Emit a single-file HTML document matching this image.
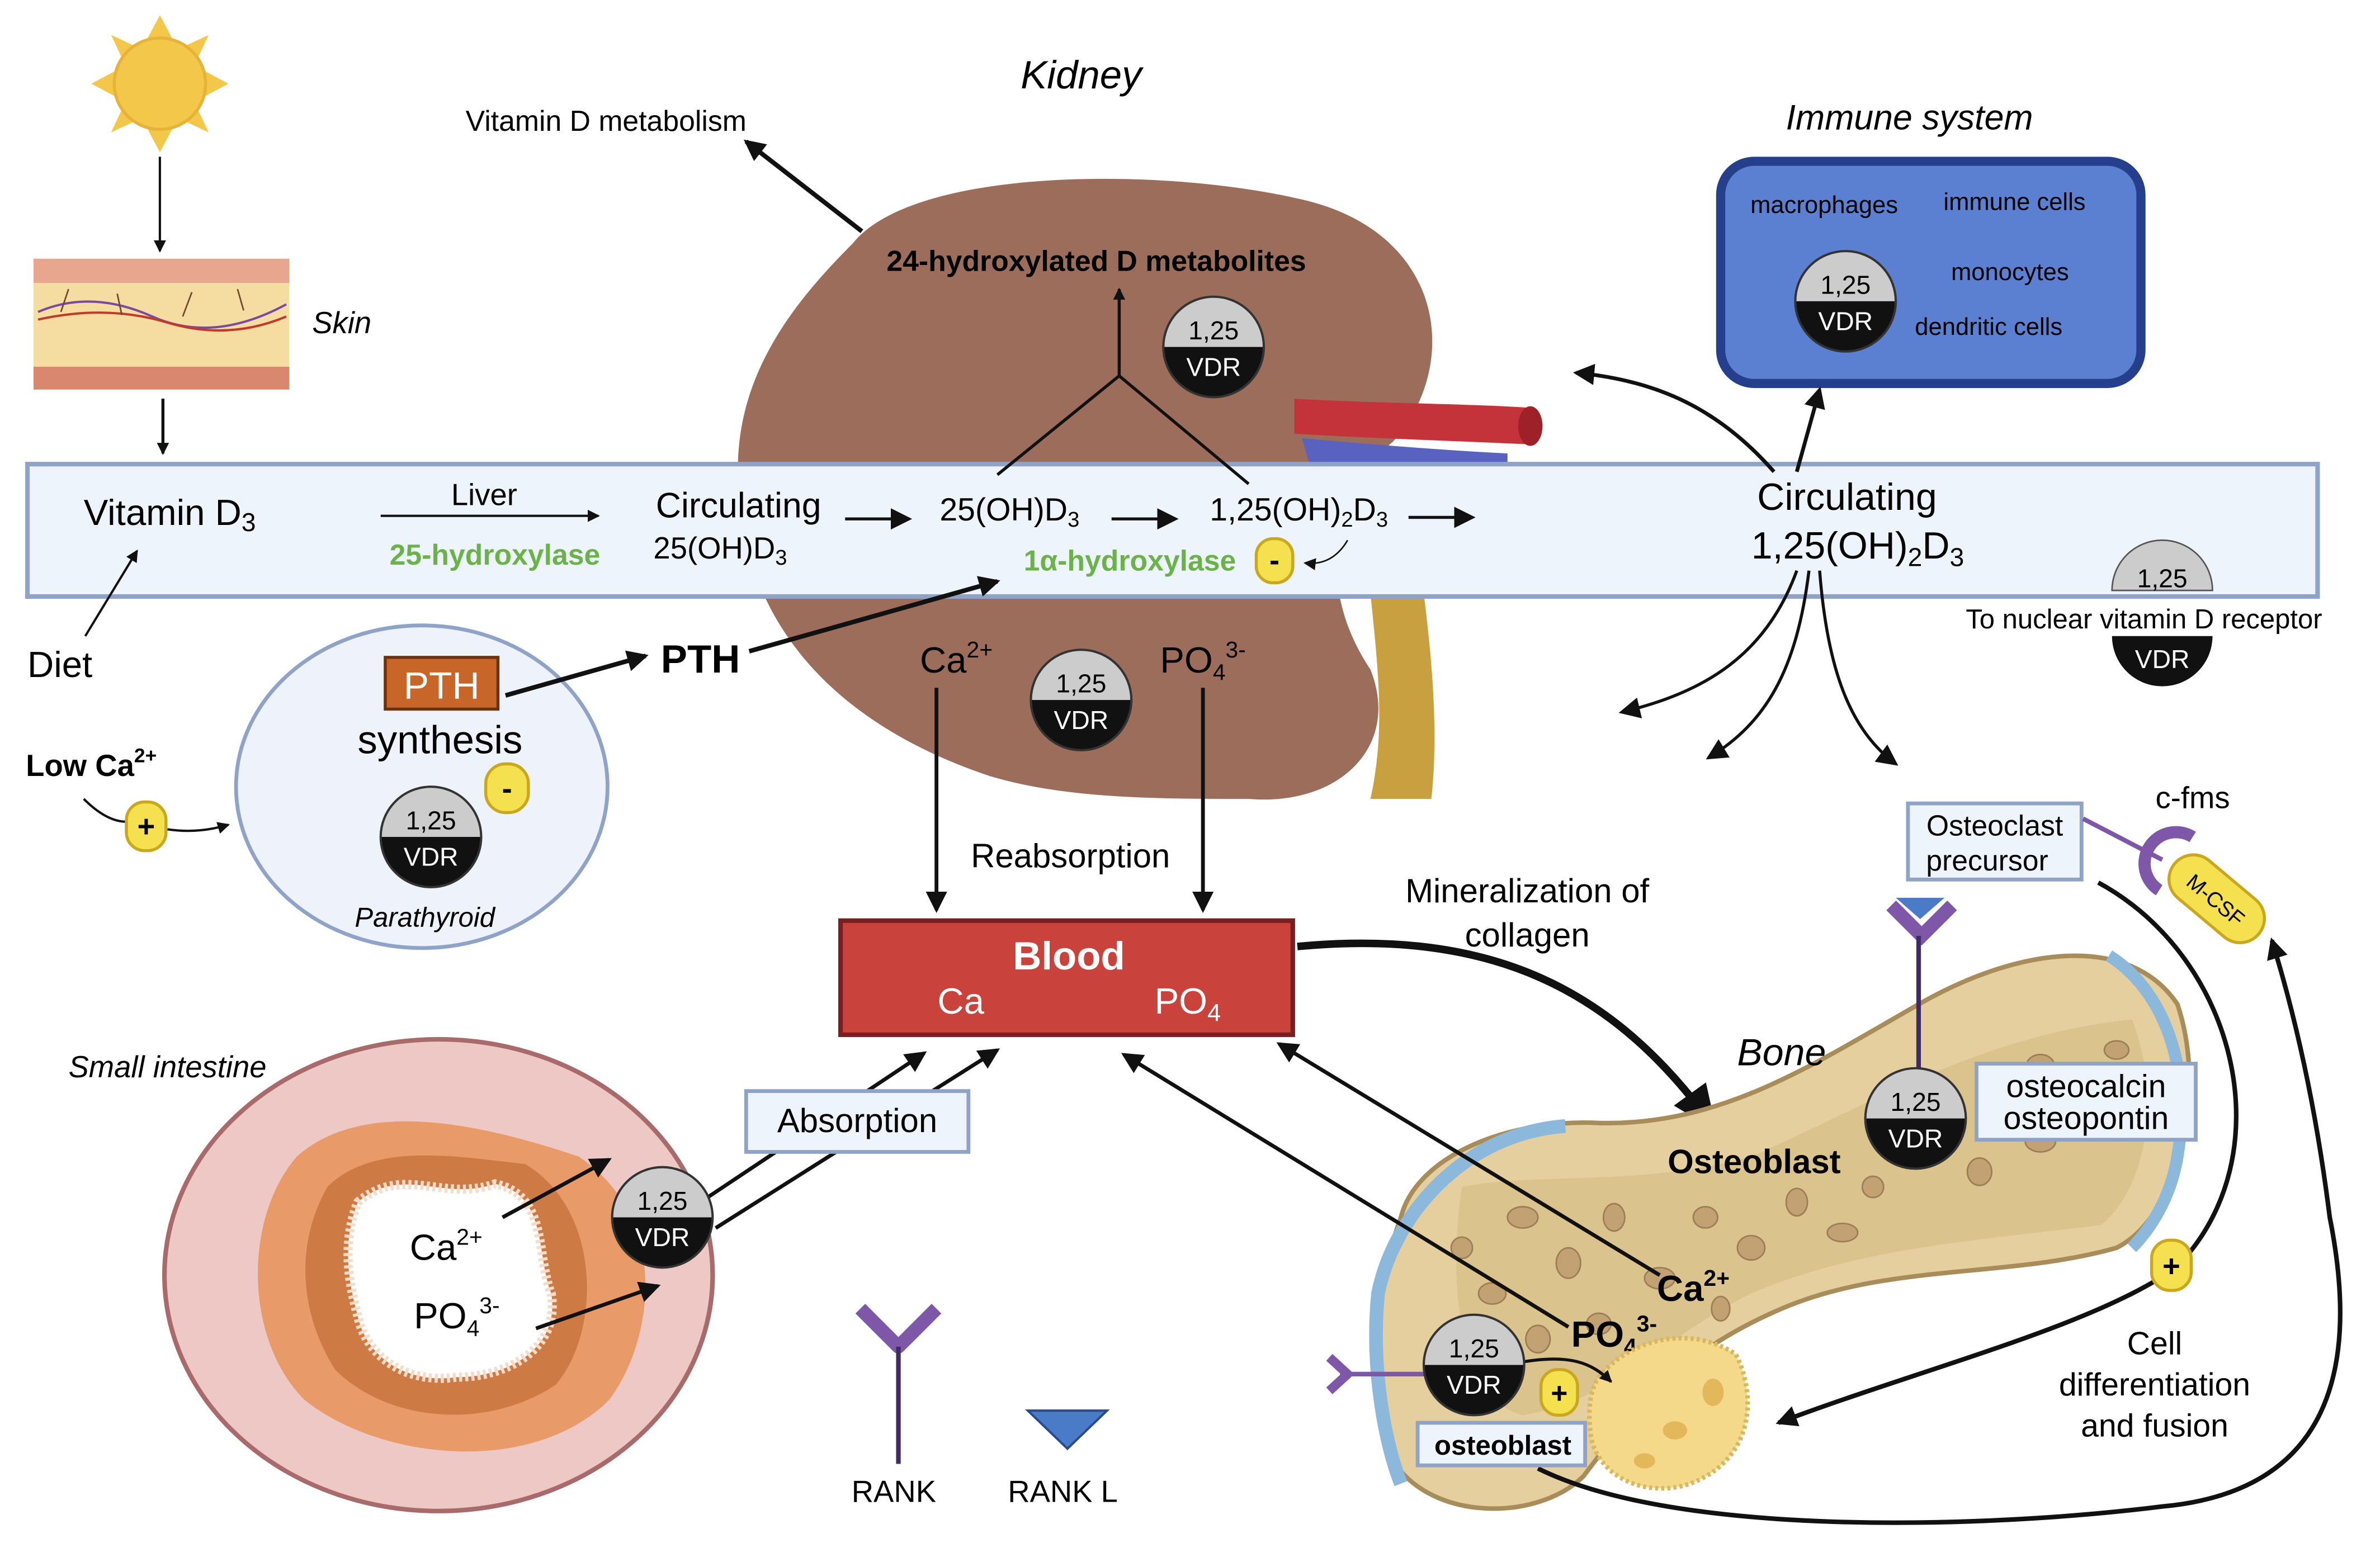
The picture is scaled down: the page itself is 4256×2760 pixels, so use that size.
<!DOCTYPE html>
<html><head><meta charset="utf-8"><style>
html,body{margin:0;padding:0;background:#fff}
svg{display:block}
text{font-family:"Liberation Sans",sans-serif}
</style></head><body>
<svg width="4256" height="2760" viewBox="0 0 1563 1014" preserveAspectRatio="none" xmlns="http://www.w3.org/2000/svg">
<defs>
<marker id="ah" markerWidth="8" markerHeight="8" refX="7" refY="4" orient="auto" markerUnits="userSpaceOnUse"><path d="M0,0 L8,4 L0,8 z" fill="#111"/></marker>
<marker id="ahb" markerWidth="14" markerHeight="14" refX="12" refY="7" orient="auto" markerUnits="userSpaceOnUse"><path d="M0,0 L14,7 L0,14 z" fill="#111"/></marker>
<marker id="ahL" markerWidth="30" markerHeight="26" refX="26" refY="13" orient="auto" markerUnits="userSpaceOnUse"><path d="M0,0 L30,13 L0,26 z" fill="#111"/></marker>
</defs>
<rect width="1563" height="1014" fill="#fff"/>

<!-- Sun -->
<g fill="#f2c74a">
<polygon points="105,10 97,25 113,25"/><polygon points="105,100 97,85 113,85"/>
<polygon points="60,55 75,47 75,63"/><polygon points="150,55 135,47 135,63"/>
<polygon points="73,23 88,30 80,38"/><polygon points="137,23 122,30 130,38"/>
<polygon points="73,87 80,72 88,80"/><polygon points="137,87 130,72 122,80"/>
<circle cx="105" cy="55" r="30" stroke="#e6b23a" stroke-width="2"/>
</g>
<line x1="105" y1="103" x2="105" y2="165" stroke="#111" stroke-width="1.5" marker-end="url(#ah)"/>
<!-- Skin -->
<rect x="22" y="170" width="168" height="16" fill="#e7a78e"/>
<rect x="22" y="186" width="168" height="55" fill="#f5dca0"/>
<rect x="22" y="241" width="168" height="15" fill="#d9876f"/>
<path d="M25,205 Q60,190 100,208 T188,200" stroke="#7a4aa0" fill="none" stroke-width="1.5"/>
<path d="M25,210 Q70,200 110,212 T188,208" stroke="#c0392b" fill="none" stroke-width="1.5"/>
<path d="M40,205 l5,-15 M80,207 l-3,-14 M120,208 l6,-16 M160,204 l-4,-14" stroke="#6a4a30" stroke-width="1"/>
<text x="205" y="219" font-size="20" font-style="italic">Skin</text>
<line x1="107" y1="262" x2="107" y2="298" stroke="#111" stroke-width="2" marker-end="url(#ah)"/>

<!-- Kidney -->
<path d="M560,160 C600,110 760,110 850,130 C950,150 960,240 915,290 C880,320 860,380 900,440 C920,490 880,530 820,525 C760,525 700,525 650,510 C560,480 490,420 485,320 C480,250 520,200 560,160 Z" fill="#9c6d5b"/>
<path d="M900,390 C905,440 910,480 900,525 L940,525 C945,480 940,430 935,390 Z" fill="#c8a040"/>
<path d="M850,262 C900,265 960,265 1005,268 L1005,292 C960,290 900,288 850,285 Z" fill="#c5333a"/>
<ellipse cx="1005" cy="280" rx="8" ry="13" fill="#9e2028"/>
<path d="M855,288 C900,292 950,296 990,298 L990,305 L860,305 Z" fill="#5a62c0"/>

<!-- Band -->
<rect x="18" y="305" width="1504" height="87" fill="#eef4fb" stroke="#8fa3c8" stroke-width="3"/>

<text x="710" y="58" font-size="26" font-style="italic" text-anchor="middle">Kidney</text>
<text x="398" y="86" font-size="19" text-anchor="middle">Vitamin D metabolism</text>
<line x1="566" y1="152" x2="490" y2="93" stroke="#111" stroke-width="3" marker-end="url(#ahb)"/>
<text x="720" y="178" font-size="19" font-weight="bold" text-anchor="middle">24-hydroxylated D metabolites</text>
<path d="M655,312 L735,247 L820,318 M735,247 L735,190" stroke="#111" stroke-width="2" fill="none" marker-end="url(#ah)"/>

<!-- Band text -->
<text x="55" y="345" font-size="24">Vitamin D<tspan font-size="17" dy="4">3</tspan></text>
<text x="318" y="332" font-size="20" text-anchor="middle">Liver</text>
<line x1="250" y1="339" x2="393" y2="339" stroke="#111" stroke-width="1.5" marker-end="url(#ah)"/>
<text x="325" y="371" font-size="19" font-weight="bold" fill="#6bb24a" text-anchor="middle">25-hydroxylase</text>
<text x="485" y="340" font-size="23" text-anchor="middle">Circulating</text>
<text x="473" y="367" font-size="20" text-anchor="middle">25(OH)D<tspan font-size="14" dy="4">3</tspan></text>
<line x1="555" y1="341" x2="597" y2="341" stroke="#111" stroke-width="2" marker-end="url(#ahb)"/>
<text x="663" y="342" font-size="21" text-anchor="middle">25(OH)D<tspan font-size="14" dy="4">3</tspan></text>
<line x1="730" y1="341" x2="772" y2="341" stroke="#111" stroke-width="2" marker-end="url(#ahb)"/>
<text x="853" y="342" font-size="21" text-anchor="middle">1,25(OH)<tspan font-size="14" dy="4">2</tspan><tspan dy="-4">D</tspan><tspan font-size="14" dy="4">3</tspan></text>
<line x1="925" y1="340" x2="967" y2="340" stroke="#111" stroke-width="2" marker-end="url(#ahb)"/>
<text x="742" y="375" font-size="19" font-weight="bold" fill="#6bb24a" text-anchor="middle">1α-hydroxylase</text>
<rect x="825" y="354" width="24" height="29" rx="11" fill="#f5e050" stroke="#c9a820" stroke-width="2"/>
<text x="837" y="375" font-size="20" font-weight="bold" text-anchor="middle">-</text>
<path d="M885,355 Q875,372 857,370" stroke="#111" stroke-width="1" fill="none" marker-end="url(#ah)"/>
<text x="1213" y="335" font-size="25" text-anchor="middle">Circulating</text>
<text x="1220" y="367" font-size="25" text-anchor="middle">1,25(OH)<tspan font-size="17" dy="5">2</tspan><tspan dy="-5">D</tspan><tspan font-size="17" dy="5">3</tspan></text>

<!-- nuclear VDR -->
<path d="M1387,388 A33,33 0 0 1 1453,388 Z" fill="#ccc" stroke="#555" stroke-width="1"/>
<text x="1420" y="386" font-size="17" text-anchor="middle">1,25</text>
<path d="M1387,418 L1453,418 A33,33 0 0 1 1387,418 Z" fill="#111"/>
<text x="1420" y="439" font-size="17" fill="#fff" text-anchor="middle">VDR</text>
<text x="1408" y="413" font-size="18" text-anchor="middle">To nuclear vitamin D receptor</text>

<!-- Diet -->
<text x="18" y="445" font-size="24">Diet</text>
<line x1="56" y1="418" x2="90" y2="362" stroke="#111" stroke-width="1.5" marker-end="url(#ah)"/>

<!-- Immune -->
<text x="1254" y="85" font-size="23" font-style="italic" text-anchor="middle">Immune system</text>
<rect x="1130" y="106" width="276" height="146" rx="22" fill="#5b80d2" stroke="#253f8c" stroke-width="6"/>
<text x="1198" y="140" font-size="16" text-anchor="middle">macrophages</text>
<text x="1323" y="138" font-size="16" text-anchor="middle">immune cells</text>
<text x="1320" y="184" font-size="16" text-anchor="middle">monocytes</text>
<text x="1306" y="220" font-size="16" text-anchor="middle">dendritic cells</text>
<path d="M1165,310 C1130,270 1090,250 1035,245" stroke="#111" stroke-width="2.5" fill="none" marker-end="url(#ahb)"/>
<line x1="1180" y1="310" x2="1195" y2="256" stroke="#111" stroke-width="2.5" marker-end="url(#ahb)"/>
<path d="M1180,375 C1160,430 1120,455 1065,468" stroke="#111" stroke-width="2" fill="none" marker-end="url(#ahb)"/>
<path d="M1188,375 C1180,440 1160,475 1122,498" stroke="#111" stroke-width="2" fill="none" marker-end="url(#ahb)"/>
<path d="M1195,375 C1200,440 1215,480 1245,502" stroke="#111" stroke-width="2" fill="none" marker-end="url(#ahb)"/>

<!-- Parathyroid -->
<ellipse cx="277" cy="517" rx="122" ry="106" fill="#eef2fa" stroke="#8fa3c8" stroke-width="2.5"/>
<rect x="253" y="432" width="74" height="34" fill="#c8662a" stroke="#6b3210" stroke-width="2"/>
<text x="290" y="459" font-size="25" fill="#fff" text-anchor="middle">PTH</text>
<text x="289" y="495" font-size="26" text-anchor="middle">synthesis</text>
<rect x="319" y="502" width="28" height="32" rx="13" fill="#f5e050" stroke="#c9a820" stroke-width="2"/>
<text x="333" y="525" font-size="20" font-weight="bold" text-anchor="middle">-</text>
<text x="279" y="609" font-size="18" font-style="italic" text-anchor="middle">Parathyroid</text>
<line x1="332" y1="457" x2="424" y2="431" stroke="#111" stroke-width="3" marker-end="url(#ahb)"/>
<text x="460" y="442" font-size="26" font-weight="bold" text-anchor="middle">PTH</text>
<line x1="492" y1="428" x2="655" y2="382" stroke="#111" stroke-width="3" marker-end="url(#ahb)"/>
<text x="17" y="510" font-size="20" font-weight="bold">Low Ca<tspan font-size="13" dy="-9">2+</tspan></text>
<path d="M55,525 Q70,540 83,540" stroke="#111" stroke-width="1.5" fill="none"/>
<rect x="83" y="527" width="26" height="32" rx="12" fill="#f5e050" stroke="#c9a820" stroke-width="2"/>
<text x="96" y="550" font-size="20" font-weight="bold" text-anchor="middle">+</text>
<path d="M110,545 Q130,548 150,542" stroke="#111" stroke-width="1.5" fill="none" marker-end="url(#ah)"/>

<!-- Ca/PO4 kidney -->
<text x="628" y="442" font-size="24" text-anchor="middle">Ca<tspan font-size="15" dy="-10">2+</tspan></text>
<text x="790" y="442" font-size="24" text-anchor="middle">PO<tspan font-size="15" dy="5">4</tspan><tspan font-size="15" dy="-15">3-</tspan></text>
<line x1="615" y1="452" x2="615" y2="598" stroke="#111" stroke-width="2.5" marker-end="url(#ahb)"/>
<line x1="790" y1="452" x2="790" y2="598" stroke="#111" stroke-width="2.5" marker-end="url(#ahb)"/>
<text x="703" y="570" font-size="22" text-anchor="middle">Reabsorption</text>

<!-- Blood -->
<rect x="552" y="605" width="297" height="75" fill="#c9433c" stroke="#7a1f1f" stroke-width="3"/>
<text x="702" y="637" font-size="26" font-weight="bold" fill="#fff" text-anchor="middle">Blood</text>
<text x="631" y="666" font-size="24" fill="#fff" text-anchor="middle">Ca</text>
<text x="780" y="666" font-size="24" fill="#fff" text-anchor="middle">PO<tspan font-size="16" dy="5">4</tspan></text>

<text x="1003" y="593" font-size="22" text-anchor="middle">Mineralization of</text>
<text x="1003" y="622" font-size="22" text-anchor="middle">collagen</text>
<path d="M852,622 C980,610 1060,650 1125,740" stroke="#111" stroke-width="5" fill="none" marker-end="url(#ahL)"/>

<!-- Small intestine -->
<text x="110" y="708" font-size="20" font-style="italic" text-anchor="middle">Small intestine</text>
<ellipse cx="288" cy="838" rx="180" ry="155" fill="#edc8c4" stroke="#a86a6a" stroke-width="3"/>
<path d="M195,760 C240,720 320,740 380,760 C440,800 430,880 400,920 C350,970 250,960 200,920 C160,880 160,800 195,760 Z" fill="#e89a68"/>
<path d="M215,780 C245,750 300,760 345,765 C395,795 395,875 365,910 C320,940 255,935 220,900 C195,860 195,815 215,780 Z" fill="#ce7a45"/>
<path d="M235,790 C265,765 290,790 325,778 C360,785 352,825 362,850 C368,885 335,905 300,905 C265,910 240,890 235,865 C228,840 225,815 235,790 Z" fill="#fff" stroke="#f4dcc8" stroke-width="6" stroke-dasharray="2,2"/>
<text x="293" y="828" font-size="24" text-anchor="middle">Ca<tspan font-size="15" dy="-10">2+</tspan></text>
<text x="300" y="873" font-size="24" text-anchor="middle">PO<tspan font-size="15" dy="5">4</tspan><tspan font-size="15" dy="-15">3-</tspan></text>
<line x1="330" y1="800" x2="400" y2="762" stroke="#111" stroke-width="2.5" marker-end="url(#ahb)"/>
<line x1="352" y1="873" x2="432" y2="845" stroke="#111" stroke-width="2.5" marker-end="url(#ahb)"/>
<line x1="460" y1="790" x2="607" y2="692" stroke="#111" stroke-width="2.5" marker-end="url(#ahb)"/>
<line x1="470" y1="807" x2="655" y2="690" stroke="#111" stroke-width="2.5" marker-end="url(#ahb)"/>
<rect x="490" y="717" width="146" height="40" fill="#eef4fb" stroke="#8fa3c8" stroke-width="2.5"/>
<text x="563" y="744" font-size="22" text-anchor="middle">Absorption</text>

<!-- RANK -->
<path d="M565,860 L590,885 L615,860" stroke="#7e57a8" stroke-width="9" fill="none" stroke-linejoin="round"/>
<line x1="590" y1="885" x2="590" y2="962" stroke="#3e2a64" stroke-width="3"/>
<text x="587" y="987" font-size="20" text-anchor="middle">RANK</text>
<polygon points="675,927 727,927 701,952" fill="#4a7bc8" stroke="#2a4a8a" stroke-width="1.5"/>
<text x="698" y="987" font-size="20" text-anchor="middle">RANK L</text>

<!-- Bone -->
<path d="M920,800 C930,760 990,735 1050,738 C1130,740 1190,700 1260,660 C1330,620 1400,615 1430,660 C1450,720 1430,800 1390,820 C1320,840 1240,830 1170,860 C1100,890 1070,930 1040,970 C1010,1000 940,1000 915,960 C895,920 905,840 920,800 Z" fill="#e6cf9f" stroke="#a88c5a" stroke-width="3"/>
<path d="M960,780 C1010,770 1080,780 1150,760 C1220,730 1300,680 1400,670 C1420,720 1410,780 1380,805 C1300,815 1220,820 1150,850 C1090,880 1060,920 1000,930 C960,920 950,850 960,780 Z" fill="#d8bf8a" opacity="0.8"/>
<g fill="#c2a173" stroke="#9b7e55" stroke-width="1">
<ellipse cx="1000" cy="800" rx="10" ry="7"/><ellipse cx="1030" cy="830" rx="8" ry="10"/><ellipse cx="980" cy="850" rx="9" ry="7"/><ellipse cx="1060" cy="800" rx="7" ry="9"/><ellipse cx="1090" cy="840" rx="10" ry="7"/><ellipse cx="1120" cy="800" rx="8" ry="7"/><ellipse cx="1150" cy="820" rx="9" ry="8"/><ellipse cx="1180" cy="790" rx="7" ry="9"/><ellipse cx="1210" cy="810" rx="10" ry="6"/><ellipse cx="1300" cy="770" rx="8" ry="9"/><ellipse cx="1340" cy="750" rx="10" ry="7"/><ellipse cx="1370" cy="720" rx="7" ry="8"/><ellipse cx="1390" cy="690" rx="8" ry="6"/><ellipse cx="1340" cy="700" rx="9" ry="7"/><ellipse cx="1010" cy="880" rx="8" ry="9"/><ellipse cx="960" cy="820" rx="7" ry="7"/><ellipse cx="1050" cy="870" rx="8" ry="7"/><ellipse cx="1230" cy="780" rx="7" ry="7"/><ellipse cx="1130" cy="860" rx="6" ry="8"/>
</g>
<path d="M1028,740 C960,745 915,800 905,850 C900,900 910,950 920,975" stroke="#8cb8dc" stroke-width="9" fill="none"/>
<path d="M1385,628 C1420,650 1440,700 1430,760 C1425,790 1410,810 1400,820" stroke="#8cb8dc" stroke-width="8" fill="none"/>
<text x="1170" y="700" font-size="25" font-style="italic" text-anchor="middle">Bone</text>
<text x="1152" y="771" font-size="22" font-weight="bold" text-anchor="middle">Osteoblast</text>
<line x1="1090" y1="838" x2="840" y2="686" stroke="#111" stroke-width="2.5" marker-end="url(#ahb)"/>
<line x1="1030" y1="872" x2="738" y2="693" stroke="#111" stroke-width="2.5" marker-end="url(#ahb)"/>
<text x="1112" y="855" font-size="24" font-weight="bold" text-anchor="middle">Ca<tspan font-size="15" dy="-10">2+</tspan></text>
<text x="1060" y="885" font-size="24" font-weight="bold" text-anchor="middle">PO<tspan font-size="15" dy="5">4</tspan><tspan font-size="15" dy="-15">3-</tspan></text>
<!-- osteoclast -->
<path d="M1050,905 C1070,880 1110,870 1140,890 C1155,920 1150,960 1110,975 C1080,985 1050,970 1045,945 C1042,925 1045,912 1050,905 Z" fill="#f5d98a" stroke="#d9b85a" stroke-width="3" stroke-dasharray="2,2"/>
<ellipse cx="1100" cy="940" rx="8" ry="6" fill="#e3b85a"/><ellipse cx="1125" cy="915" rx="7" ry="9" fill="#e3b85a"/><ellipse cx="1080" cy="960" rx="7" ry="5" fill="#e3b85a"/>

<!-- RANK on bone -->
<path d="M1242,595 L1262,615 L1282,595" stroke="#7e57a8" stroke-width="9" fill="none"/>
<polygon points="1245,590 1277,590 1261,604" fill="#4a7bc8"/>
<line x1="1260" y1="615" x2="1260" y2="705" stroke="#3e2a64" stroke-width="3"/>
<rect x="1298" y="699" width="144" height="50" fill="#eef4fb" stroke="#8fa3c8" stroke-width="2.5"/>
<text x="1370" y="721" font-size="21" text-anchor="middle">osteocalcin</text>
<text x="1370" y="742" font-size="21" text-anchor="middle">osteopontin</text>

<!-- Osteoclast precursor -->
<rect x="1253" y="528" width="114" height="50" fill="#eef4fb" stroke="#8fa3c8" stroke-width="2.5"/>
<text x="1310" y="549" font-size="19" text-anchor="middle">Osteoclast</text>
<text x="1305" y="572" font-size="19" text-anchor="middle">precursor</text>
<line x1="1368" y1="538" x2="1420" y2="565" stroke="#7e57a8" stroke-width="3"/>
<path d="M1440,550 A20,20 0 0 0 1418,585" stroke="#7e57a8" stroke-width="8" fill="none"/>
<g transform="rotate(40 1455 590)"><rect x="1420" y="574" width="72" height="32" rx="16" fill="#f5e050" stroke="#c9a820" stroke-width="2"/><text x="1456" y="596" font-size="14" text-anchor="middle">M-CSF</text></g>
<text x="1440" y="531" font-size="20" text-anchor="middle">c-fms</text>

<path d="M1378,580 C1470,630 1500,760 1430,832 C1380,870 1260,900 1168,935" stroke="#111" stroke-width="3" fill="none" marker-end="url(#ahb)"/>
<rect x="1413" y="815" width="26" height="33" rx="12" fill="#f5e050" stroke="#c9a820" stroke-width="2"/>
<text x="1426" y="839" font-size="20" font-weight="bold" text-anchor="middle">+</text>
<text x="1415" y="890" font-size="21" text-anchor="middle">Cell</text>
<text x="1415" y="917" font-size="21" text-anchor="middle">differentiation</text>
<text x="1415" y="944" font-size="21" text-anchor="middle">and fusion</text>
<path d="M1010,965 C1100,1010 1300,1005 1420,990 C1530,980 1550,900 1530,800 C1520,720 1505,660 1492,618" stroke="#111" stroke-width="3" fill="none" marker-end="url(#ahb)"/>

<!-- osteoblast left receptor -->
<line x1="880" y1="903" x2="940" y2="903" stroke="#7e57a8" stroke-width="3"/>
<path d="M873,892 L885,903 L873,914" stroke="#7e57a8" stroke-width="6" fill="none"/>
<path d="M1000,895 C1030,890 1045,895 1058,908" stroke="#111" stroke-width="2" fill="none" marker-end="url(#ah)"/>
<rect x="1012" y="900" width="24" height="30" rx="11" fill="#f5e050" stroke="#c9a820" stroke-width="2"/>
<text x="1024" y="922" font-size="19" font-weight="bold" text-anchor="middle">+</text>
<rect x="931" y="935" width="110" height="28" fill="#eef4fb" stroke="#8fa3c8" stroke-width="2.5"/>
<text x="987" y="956" font-size="18" font-weight="bold" text-anchor="middle">osteoblast</text>

<!-- VDR badges -->
<g font-size="17" text-anchor="middle">
<g transform="translate(797,228)"><path d="M-33,0 A33,33 0 0 1 33,0 Z" fill="#ccc"/><path d="M-33,0 L33,0 A33,33 0 0 1 -33,0 Z" fill="#111"/><circle r="33" fill="none" stroke="#333" stroke-width="1.5"/><text y="-5">1,25</text><text y="19" fill="#fff">VDR</text></g>
<g transform="translate(710,460)"><path d="M-33,0 A33,33 0 0 1 33,0 Z" fill="#ccc"/><path d="M-33,0 L33,0 A33,33 0 0 1 -33,0 Z" fill="#111"/><circle r="33" fill="none" stroke="#333" stroke-width="1.5"/><text y="-5">1,25</text><text y="19" fill="#fff">VDR</text></g>
<g transform="translate(1212,198)"><path d="M-33,0 A33,33 0 0 1 33,0 Z" fill="#ccc"/><path d="M-33,0 L33,0 A33,33 0 0 1 -33,0 Z" fill="#111"/><circle r="33" fill="none" stroke="#333" stroke-width="1.5"/><text y="-5">1,25</text><text y="19" fill="#fff">VDR</text></g>
<g transform="translate(283,550)"><path d="M-33,0 A33,33 0 0 1 33,0 Z" fill="#ccc"/><path d="M-33,0 L33,0 A33,33 0 0 1 -33,0 Z" fill="#111"/><circle r="33" fill="none" stroke="#333" stroke-width="1.5"/><text y="-5">1,25</text><text y="19" fill="#fff">VDR</text></g>
<g transform="translate(435,800)"><path d="M-33,0 A33,33 0 0 1 33,0 Z" fill="#ccc"/><path d="M-33,0 L33,0 A33,33 0 0 1 -33,0 Z" fill="#111"/><circle r="33" fill="none" stroke="#333" stroke-width="1.5"/><text y="-5">1,25</text><text y="19" fill="#fff">VDR</text></g>
<g transform="translate(1258,735)"><path d="M-33,0 A33,33 0 0 1 33,0 Z" fill="#ccc"/><path d="M-33,0 L33,0 A33,33 0 0 1 -33,0 Z" fill="#111"/><circle r="33" fill="none" stroke="#333" stroke-width="1.5"/><text y="-5">1,25</text><text y="19" fill="#fff">VDR</text></g>
<g transform="translate(968,897)"><path d="M-33,0 A33,33 0 0 1 33,0 Z" fill="#ccc"/><path d="M-33,0 L33,0 A33,33 0 0 1 -33,0 Z" fill="#111"/><circle r="33" fill="none" stroke="#333" stroke-width="1.5"/><text y="-5">1,25</text><text y="19" fill="#fff">VDR</text></g>
</g>
</svg>
</body></html>
